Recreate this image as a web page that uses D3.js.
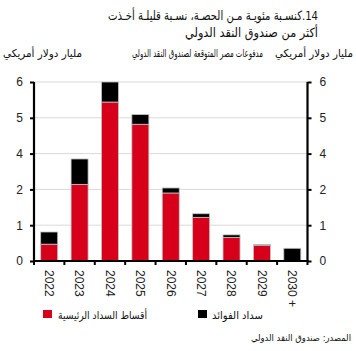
<!DOCTYPE html>
<html>
<head>
<meta charset="utf-8">
<script src="https://cdn.jsdelivr.net/npm/d3@7"></script>
<style>
  body { margin: 0; background: #fff; }
  .ar { font-family: "DejaVu Sans Condensed", "DejaVu Sans", sans-serif; }
  .num { font-family: "Liberation Sans", Arial, sans-serif; font-size: 12px; fill: #222; }
</style>
</head>
<body>
<div id="chart"></div>
<script>
// Egypt's expected payments to the IMF, billion USD
const years = ["2022", "2023", "2024", "2025", "2026", "2027", "2028", "2029", "2030 +"];
const principal = [0.47, 2.28, 5.44, 4.82, 1.90, 1.22, 0.66, 0.43, 0];
const interest = [0.34, 1.42, 0.56, 0.27, 0.18, 0.10, 0.07, 0.03, 0.355];
// the source axis skips the label 3, gridlines are evenly spaced
const yTicks = [0, 1, 2, 4, 5, 6];

const titleLines = ["14.كنسـبة مئويـة مـن الحصـة، نسـبة قليلـة أخـذت", "أكثر من صندوق النقد الدولي"];
const unitLabel = "مليار دولار أمريكي";
const subTitle = "مدفوعات مصر المتوقعة لصندوق النقد الدولي";
const seriesNames = ["أقساط السداد الرئيسية", "سداد الفوائد"];
const sourceText = "المصدر: صندوق النقد الدولي";

const width = 356, height = 351;
const left = 34, right = 307.5, y0 = 261, yTop = 82;
const red = "#d7001b";

const svg = d3.select("#chart").append("svg")
    .attr("width", width)
    .attr("height", height);

// font size that makes str about w wide
function fitSize(str, w) {
    const t = svg.append("text").attr("class", "ar").style("font-size", "10px").text(str);
    const len = t.node().getComputedTextLength();
    t.remove();
    return 10 * w / len;
}

// right-aligned arabic text, squeezed to the given width
function arText(xr, y, str, w, size, rtl) {
    const t = svg.append("text")
        .attr("class", "ar")
        .attr("x", xr)
        .attr("y", y)
        .style("font-size", size + "px")
        .attr("fill", "#111")
        .attr("textLength", w)
        .attr("lengthAdjust", "spacingAndGlyphs")
        .text(str);
    if (rtl) t.attr("direction", "rtl").attr("text-anchor", "start");
    else t.attr("text-anchor", "end");
    return t;
}

// x scale: bands with ticks on the boundaries
const x = d3.scaleBand()
    .domain(years)
    .range([left, right])
    .paddingInner(0.44)
    .paddingOuter(0.22);

const step = (y0 - yTop) / (yTicks.length - 1);
const y = d3.scaleLinear()
    .domain(yTicks)
    .range(yTicks.map((d, i) => y0 - i * step));

// gridlines
svg.append("g")
    .selectAll("line")
    .data(yTicks.slice(1))
    .enter()
    .append("line")
    .attr("x1", left)
    .attr("x2", right)
    .attr("y1", d => y(d))
    .attr("y2", d => y(d))
    .attr("stroke", "#d9d9d9")
    .attr("stroke-width", 1);

// stacked bars
const rows = years.map((yr, i) => ({ year: yr, principal: principal[i], interest: interest[i] }));
const stack = d3.stack().keys(["principal", "interest"]);
const color = d3.scaleOrdinal().domain(["principal", "interest"]).range([red, "#000"]);

svg.append("g")
    .selectAll("g")
    .data(stack(rows))
    .enter()
    .append("g")
    .attr("fill", d => color(d.key))
    .selectAll("rect")
    .data(d => d.filter(p => p[1] - p[0] > 0))
    .enter()
    .append("rect")
    .attr("x", d => x(d.data.year))
    .attr("width", x.bandwidth())
    .attr("y", d => y(d[1]))
    .attr("height", d => y(d[0]) - y(d[1]))
    .attr("stroke", "#c4c4c4")
    .attr("stroke-width", 0.8);

// y axes on both sides
const axL = svg.append("g")
    .attr("transform", `translate(${left},0)`)
    .call(d3.axisLeft(y).tickValues(yTicks).tickFormat(d3.format("d")).tickSize(4).tickPadding(7));
const axR = svg.append("g")
    .attr("transform", `translate(${right},0)`)
    .call(d3.axisRight(y).tickValues(yTicks).tickFormat(d3.format("d")).tickSize(4).tickPadding(8));

[axL, axR].forEach(ax => {
    ax.attr("font-family", null).attr("font-size", null);
    ax.select(".domain").attr("stroke", "#000").attr("stroke-width", 2.2)
        .attr("d", `M0,${y0 + 1}V${yTop}`);
    ax.selectAll(".tick line").attr("stroke", "#000").attr("stroke-width", 2);
    ax.selectAll(".tick text").attr("class", "num");
});

// bottom axis with ticks on band boundaries
svg.append("line")
    .attr("x1", left - 1).attr("x2", right + 1)
    .attr("y1", y0).attr("y2", y0)
    .attr("stroke", "#000").attr("stroke-width", 2.2);

svg.append("g")
    .selectAll("line")
    .data(d3.range(years.length + 1))
    .enter()
    .append("line")
    .attr("x1", i => left + i * x.step())
    .attr("x2", i => left + i * x.step())
    .attr("y1", y0)
    .attr("y2", y0 + 4)
    .attr("stroke", "#000")
    .attr("stroke-width", 2);

svg.append("g")
    .selectAll("text")
    .data(years)
    .enter()
    .append("text")
    .attr("class", "num")
    .attr("transform", d => `translate(${x(d) + x.bandwidth() / 2},270) rotate(90)`)
    .attr("dy", "0.35em")
    .attr("text-anchor", "start")
    .text(d => d);

// title
const titleSize = fitSize(titleLines[0], 210) * 1.15;
arText(318, 20, titleLines[0], 210, titleSize, true);
arText(318, 37, titleLines[1], 133, titleSize, true);

// header labels and legend share one size; the right label and the source fit exactly
const labSize = fitSize(seriesNames[0], 89) * 1.05;
arText(353, 57, unitLabel, 78, Math.min(labSize, fitSize(unitLabel, 78)));
arText(263, 57, subTitle, 131, labSize);
arText(82, 57, unitLabel, 79, labSize);

// legend
svg.append("rect").attr("x", 43).attr("y", 310).attr("width", 9).attr("height", 8).attr("fill", red);
arText(147, 319, seriesNames[0], 89, labSize);
svg.append("rect").attr("x", 198).attr("y", 310).attr("width", 9).attr("height", 8).attr("fill", "#000");
arText(263, 319, seriesNames[1], 51, labSize);

// source
arText(351, 341, sourceText, 100, Math.min(labSize, fitSize(sourceText, 100)));
</script>
</body>
</html>
